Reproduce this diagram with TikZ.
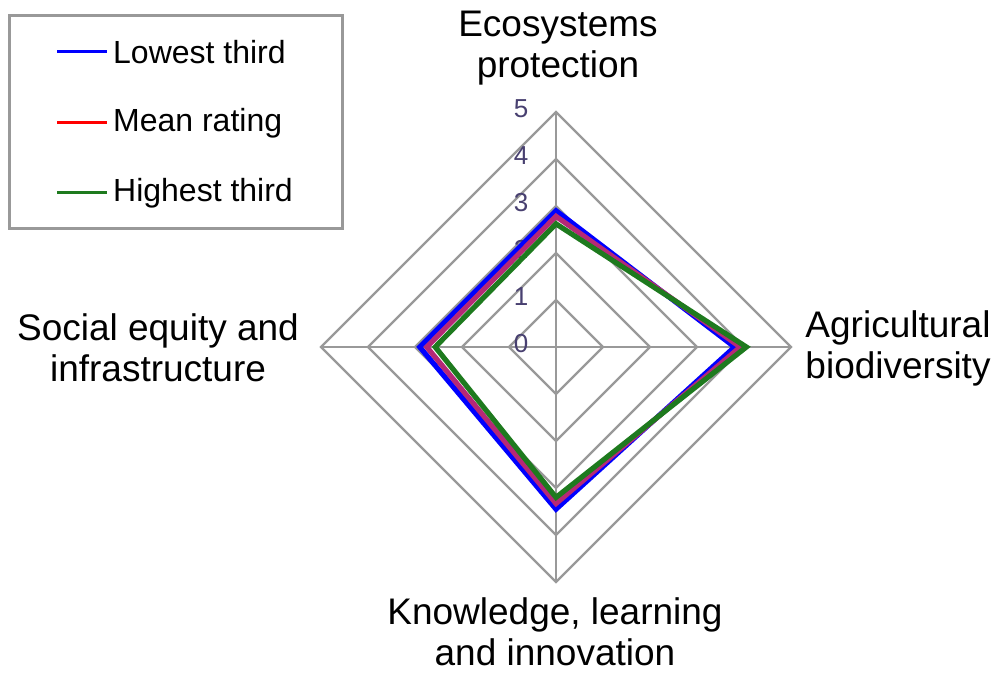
\documentclass[tikz,border=0pt]{standalone}
\usepackage{fontspec}
\setmainfont{Liberation Sans}
\usepackage{tikz}
\usetikzlibrary{positioning,calc}

\definecolor{gridgray}{RGB}{153,153,153}
\definecolor{numcol}{RGB}{72,64,112}
\definecolor{lowcol}{RGB}{0,0,255}
\definecolor{meancol}{RGB}{182,40,118}
\definecolor{meanleg}{RGB}{255,0,0}
\definecolor{highcol}{RGB}{30,122,30}

\tikzset{
  ring/.style={draw=gridgray, line width=1.1pt},
  series/.style={line width=2.6pt, line join=miter},
  axislabel/.style={align=center, inner sep=1pt, font=\fontsize{18.5}{20.5}\selectfont},
  legtext/.style={anchor=west, font=\fontsize{16}{18}\selectfont},
  tick/.style={text=numcol, font=\fontsize{13}{15}\selectfont}
}

\begin{document}
\begin{tikzpicture}[x=0.5pt,y=-0.5pt]
  \useasboundingbox (0,0) rectangle (996,673);

  % the radar grid
  \begin{scope}[shift={(556,347)}, x=23.5pt, y=23.5pt]
    \foreach \r in {1,...,5}
      \draw[ring] (90:\r) -- (0:\r) -- (270:\r) -- (180:\r) -- cycle;
    \foreach \a in {0,90,180,270}
      \draw[ring] (0,0) -- (\a:5);

    % tick numbers
    \foreach \r in {0,...,5}
      \node[tick] (tick\r) at ($(-0.74,\r)+(0,0.07)$) {\r};

    % lowest third
    \draw[series, lowcol] (90:2.9) -- (0:3.8) -- (270:3.45) -- (180:2.9) -- cycle;
    % mean rating
    \draw[series, meancol] (90:2.78) -- (0:3.92) -- (270:3.33) -- (180:2.75) -- cycle;
    % highest third
    \draw[series, highcol] (90:2.62) -- (0:4.05) -- (270:3.2) -- (180:2.57) -- cycle;
  \end{scope}

  % axis labels
  \node[axislabel] (eco) at (558,48) {Ecosystems\\protection};
  \node[axislabel] (agri) at (898,348) {Agricultural\\biodiversity};
  \node[axislabel] (know) at (555,632) {Knowledge, learning\\and innovation};
  \node[axislabel] (soc) at (158,348) {Social equity and\\infrastructure};

  % legend
  \draw[draw=gridgray, line width=1.5pt] (9,16) rectangle (342,229);
  \coordinate (l1) at (57,52);
  \coordinate (l2) at (57,123);
  \coordinate (l3) at (57,193);
  \draw[lowcol, line width=1.5pt] (l1) -- ++(50,0) node[legtext, black, xshift=-1pt] (leglow) {Lowest third};
  \draw[meanleg, line width=1.5pt] (l2) -- ++(50,0) node[legtext, black, xshift=-1pt] (legmean) {Mean rating};
  \draw[highcol, line width=1.5pt] (l3) -- ++(50,0) node[legtext, black, xshift=-1pt] (leghigh) {Highest third};
\end{tikzpicture}
\end{document}
